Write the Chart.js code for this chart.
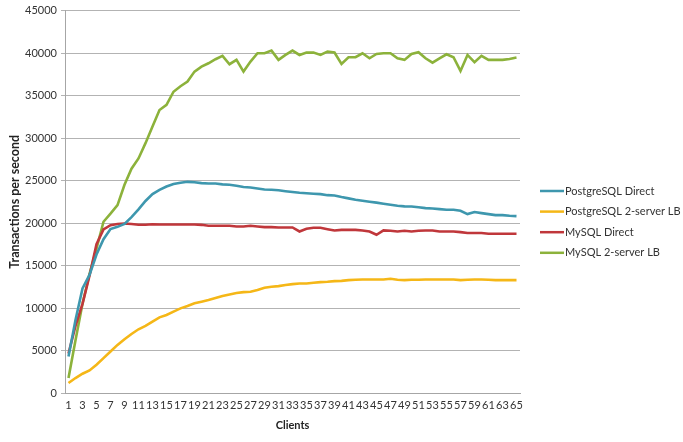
<!DOCTYPE html>
<html>
<head>
<meta charset="utf-8">
<script src="https://cdn.jsdelivr.net/npm/chart.js@4.4.1/dist/chart.umd.min.js"></script>
<style>
  html, body { margin: 0; padding: 0; background: #fff; }
  #wrap { width: 683px; height: 442px; }
</style>
</head>
<body>
<div id="wrap"><canvas id="myChart" width="683" height="442"></canvas></div>
<script>
const clients = ['1','2','3','4','5','6','7','8','9','10','11','12','13','14','15','16','17','18','19','20',
  '21','22','23','24','25','26','27','28','29','30','31','32','33','34','35','36','37','38','39','40',
  '41','42','43','44','45','46','47','48','49','50','51','52','53','54','55','56','57','58','59','60',
  '61','62','63','64','65'];

const pgDirect = [4300,8600,12300,13900,16300,18100,19300,19550,19900,20700,
  21600,22600,23400,23900,24300,24600,24750,24850,24800,24700,
  24650,24650,24550,24500,24380,24250,24180,24060,23950,23920,
  23850,23750,23650,23560,23500,23450,23400,23280,23250,23060,
  22900,22750,22630,22510,22400,22280,22160,22040,21960,21950,
  21850,21760,21720,21640,21560,21560,21440,21050,21290,21170,
  21050,20930,20930,20850,20810];

const pgLB = [1170,1760,2270,2660,3320,4100,4880,5660,6330,6950,
  7500,7890,8400,8900,9180,9570,9960,10230,10550,10740,
  10940,11170,11410,11600,11760,11870,11910,12110,12380,12500,
  12580,12700,12810,12890,12890,12970,13050,13090,13160,13200,
  13280,13320,13360,13360,13360,13360,13440,13320,13280,13320,
  13320,13360,13360,13360,13360,13360,13280,13320,13360,13360,
  13320,13280,13280,13280,13280];

const myDirect = [4650,7900,10500,13800,17500,19250,19750,19880,19950,19880,
  19800,19800,19850,19830,19830,19830,19830,19830,19830,19790,
  19680,19680,19680,19680,19600,19600,19680,19600,19520,19520,
  19480,19480,19480,19010,19320,19440,19440,19280,19130,19200,
  19200,19200,19130,19010,18620,19130,19090,19010,19090,19010,
  19100,19130,19130,19010,19010,19010,18930,18820,18820,18820,
  18740,18740,18740,18740,18740];

const myLB = [1760,6200,10500,14000,17000,20150,21100,22100,24500,26400,
  27600,29400,31350,33300,33900,35450,36100,36650,37820,38410,
  38800,39280,39670,38690,39200,37820,39000,39980,39980,40290,
  39200,39780,40290,39780,40060,40060,39780,40170,40060,38720,
  39510,39510,39980,39390,39900,39980,39980,39390,39200,39900,
  40100,39390,38880,39390,39860,39510,37900,39780,38920,39670,
  39200,39200,39200,39310,39470];

const seriesNames = ['PostgreSQL Direct', 'PostgreSQL 2-server LB', 'MySQL Direct', 'MySQL 2-server LB'];
const seriesColors = ['#3e97ae', '#f5b717', '#c0373b', '#8cb23b'];

const FONT = 'Lato, "Open Sans", sans-serif';

// simple legend on the right, Excel style (line + text)
const sideLegend = {
  id: 'sideLegend',
  afterDraw(chart) {
    const ctx = chart.ctx;
    ctx.save();
    ctx.font = '11px ' + FONT;
    ctx.textBaseline = 'middle';
    chart.data.datasets.forEach((ds, i) => {
      const y = 191 + i * 20.6;
      ctx.strokeStyle = ds.borderColor;
      ctx.lineWidth = 2.5;
      ctx.beginPath();
      ctx.moveTo(540, y);
      ctx.lineTo(564, y);
      ctx.stroke();
      ctx.fillStyle = '#333';
      ctx.fillText(ds.label, 565, y);
    });
    ctx.restore();
  }
};

const ctx = document.getElementById('myChart').getContext('2d');
new Chart(ctx, {
  type: 'line',
  data: {
    labels: clients,
    datasets: [pgDirect, pgLB, myDirect, myLB].map((d, i) => ({
      label: seriesNames[i],
      data: d,
      borderColor: seriesColors[i],
      backgroundColor: seriesColors[i],
      borderWidth: 2.6,
      pointRadius: 0,
      tension: 0,
      fill: false
    }))
  },
  options: {
    responsive: false,
    animation: false,
    layout: { padding: { top: 10, right: 163, left: 0, bottom: 0 } },
    plugins: {
      legend: { display: false },
      tooltip: { enabled: false }
    },
    scales: {
      x: {
        offset: true,
        grid: { display: false, drawTicks: false },
        border: { color: '#a6a6a6' },
        ticks: {
          autoSkip: false,
          maxRotation: 0,
          padding: 6,
          color: '#333',
          font: { family: FONT, size: 11 },
          callback: function(v, i) { return i % 2 === 0 ? this.getLabelForValue(v) : ''; }
        },
        title: {
          display: true,
          text: 'Clients',
          color: '#222',
          font: { family: FONT, size: 11, weight: 'bold' },
          padding: { top: 4, bottom: 10 }
        },
        afterFit: s => { s.height = 49; }
      },
      y: {
        min: 0,
        max: 45000,
        grid: { color: '#b3b3b3', tickLength: 4 },
        border: { color: '#a6a6a6' },
        ticks: {
          stepSize: 5000,
          padding: 4,
          color: '#333',
          font: { family: FONT, size: 11 },
          callback: v => String(v)
        },
        title: {
          display: true,
          text: 'Transactions per second',
          color: '#222',
          font: { family: FONT, size: 12.5, weight: 'bold' },
          padding: { top: 7, bottom: 2 }
        },
        afterFit: s => { s.width = 65; }
      }
    }
  },
  plugins: [sideLegend]
});
</script>
</body>
</html>
